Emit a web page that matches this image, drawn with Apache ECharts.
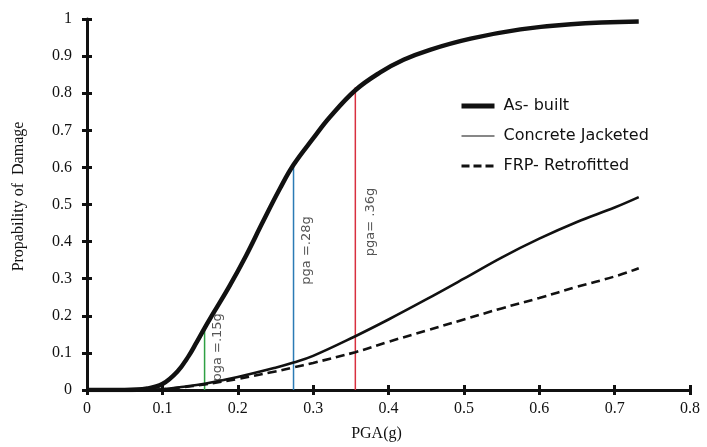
<!DOCTYPE html>
<html><head><meta charset="utf-8">
<script src="https://cdn.jsdelivr.net/npm/echarts@6/dist/echarts.min.js"></script>
<style>html,body{margin:0;padding:0;background:#fff}#c{width:707px;height:447px}</style>
</head><body><div id="c"></div>
<script>
const xTicks = [0, 0.1, 0.2, 0.3, 0.4, 0.5, 0.6, 0.7, 0.8];
const yTicks = [0, 0.1, 0.2, 0.3, 0.4, 0.5, 0.6, 0.7, 0.8, 0.9, 1];
const seriesNames = ['As- built', 'Concrete Jacketed', 'FRP- Retrofitted'];

const asBuiltX = [0, 0.05, 0.08, 0.1, 0.12, 0.135, 0.145, 0.156, 0.167, 0.189, 0.211, 0.233, 0.256, 0.274, 0.3, 0.322, 0.356, 0.389, 0.42, 0.455, 0.509, 0.575, 0.642, 0.732];
const asBuiltY = [0, 0, 0.004, 0.016, 0.05, 0.092, 0.127, 0.167, 0.205, 0.28, 0.362, 0.452, 0.543, 0.607, 0.678, 0.735, 0.808, 0.856, 0.89, 0.917, 0.947, 0.972, 0.986, 0.993];

const concreteX = [0, 0.08, 0.1, 0.125, 0.156, 0.2, 0.25, 0.274, 0.3, 0.356, 0.4, 0.45, 0.5, 0.55, 0.6, 0.65, 0.7, 0.732];
const concreteY = [0, 0, 0.002, 0.008, 0.017, 0.035, 0.06, 0.074, 0.092, 0.145, 0.19, 0.244, 0.30, 0.357, 0.408, 0.453, 0.492, 0.52];

const frpX = [0, 0.08, 0.1, 0.125, 0.156, 0.2, 0.25, 0.274, 0.3, 0.356, 0.4, 0.45, 0.5, 0.55, 0.6, 0.65, 0.7, 0.732];
const frpY = [0, 0, 0.002, 0.007, 0.015, 0.03, 0.05, 0.061, 0.073, 0.102, 0.13, 0.16, 0.19, 0.22, 0.248, 0.278, 0.306, 0.328];

const refX = [0.156, 0.274, 0.356];
const refTop = [0.168, 0.607, 0.816];
const refText = ['pga =.15g', 'pga =.28g', 'pga= .36g'];
const refColors = ['#2ea043', '#2b7bb5', '#d8303f'];
const refLabelY = [0.115, 0.376, 0.453];
const refLabelDx = [13, 13, 15];

const zip = (xs, ys) => xs.map((x, i) => [x, ys[i]]);
const serif = '"Liberation Serif", "Times New Roman", serif';
const sans = '"DejaVu Sans", Verdana, sans-serif';
const ink = '#111';

const valueAxisBase = (min, max, interval) => ({
  type: 'value', min, max, interval,
  splitLine: { show: false }
});

const xAxes = [
  Object.assign(valueAxisBase(xTicks[0], xTicks[xTicks.length - 1], 0.1), {
    position: 'bottom',
    name: 'PGA(g)', nameLocation: 'middle', nameGap: 36,
    nameTextStyle: { fontFamily: serif, fontSize: 16, color: ink, padding: [0, 24, 0, 0] },
    axisLine: { lineStyle: { color: ink, width: 3 } },
    axisTick: { inside: false, length: 5, lineStyle: { color: ink, width: 3 } },
    axisLabel: { fontFamily: serif, fontSize: 16, color: ink, margin: 11, formatter: v => String(+v.toFixed(1)) }
  }),
  Object.assign(valueAxisBase(xTicks[0], xTicks[xTicks.length - 1], 0.1), {
    position: 'bottom',
    axisLine: { show: false },
    axisTick: { inside: true, length: 5, lineStyle: { color: ink, width: 3 } },
    axisLabel: { show: false }
  })
];
const yAxes = [
  Object.assign(valueAxisBase(yTicks[0], yTicks[yTicks.length - 1], 0.1), {
    position: 'left',
    name: 'Propability of  Damage', nameLocation: 'middle', nameGap: 60, nameRotate: 90,
    nameTextStyle: { fontFamily: serif, fontSize: 16, color: ink, padding: [0, 0, 0, 16] },
    axisLine: { lineStyle: { color: ink, width: 3 } },
    axisTick: { inside: false, length: 5, lineStyle: { color: ink, width: 3 } },
    axisLabel: { fontFamily: serif, fontSize: 16, color: ink, margin: 15, formatter: v => String(+v.toFixed(1)) }
  }),
  Object.assign(valueAxisBase(yTicks[0], yTicks[yTicks.length - 1], 0.1), {
    position: 'left',
    axisLine: { show: false },
    axisTick: { inside: true, length: 5, lineStyle: { color: ink, width: 3 } },
    axisLabel: { show: false }
  })
];

const series = [
  { name: seriesNames[0], type: 'line', data: zip(asBuiltX, asBuiltY), smooth: 0.4, symbol: 'none', z: 5,
    lineStyle: { color: ink, width: 4.5 }, itemStyle: { color: ink } },
  { name: seriesNames[1], type: 'line', data: zip(concreteX, concreteY), smooth: 0.4, symbol: 'none', z: 4,
    lineStyle: { color: ink, width: 2.6 }, itemStyle: { color: ink } },
  { name: seriesNames[2], type: 'line', data: zip(frpX, frpY), smooth: 0.4, symbol: 'none', z: 4,
    lineStyle: { color: ink, width: 2.6, type: [9, 5] }, itemStyle: { color: ink } }
];
refX.forEach((x, i) => {
  series.push({
    type: 'line', data: [[x, 0], [x, refTop[i]]], symbol: 'none', z: 3, silent: true,
    lineStyle: { color: refColors[i], width: 1.5 }
  });
  series.push({
    type: 'scatter', data: [[x, refLabelY[i]]], symbolSize: 0, z: 6, silent: true,
    label: { show: true, position: 'inside', formatter: refText[i], rotate: 90, offset: [0, refLabelDx[i]],
      fontFamily: sans, fontSize: 13, color: '#2a2a2a' }
  });
});

const chart = echarts.init(document.getElementById('c'), null, { renderer: 'canvas' });
chart.setOption({
  animation: false,
  backgroundColor: '#fff',
  grid: { left: 87, right: 17, top: 19, bottom: 53, containLabel: false },
  xAxis: xAxes,
  yAxis: yAxes,
  legend: {
    orient: 'vertical', left: 459, top: 98, padding: 0, itemWidth: 33, itemHeight: 14, itemGap: 14,
    itemStyle: { opacity: 0 },
    textStyle: { fontFamily: sans, fontSize: 16, color: ink, padding: [0, 0, 0, 4] },
    data: [
      { name: seriesNames[0], lineStyle: { width: 5 } },
      { name: seriesNames[1], lineStyle: { width: 1.2 } },
      { name: seriesNames[2], lineStyle: { width: 3, type: [8, 4] } }
    ]
  },
  series
});
</script>
</body></html>
